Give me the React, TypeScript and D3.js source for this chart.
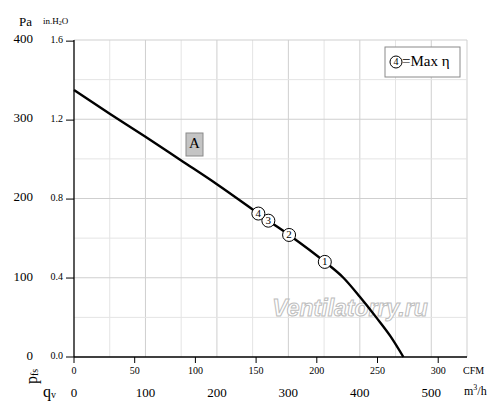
import React from "react";
import * as d3 from "d3";

// Curve data: flow in m3/h, static pressure in Pa
const flowM3h = [0, 50, 100, 150, 200, 258, 272, 301, 351, 377, 400, 423, 443, 461];
const pressurePa = [337, 307, 278, 248, 218, 181, 172, 154, 120, 100, 76, 50, 26, 0];

// Numbered operating points
const markerFlow = [351, 301, 272, 258];
const markerPa = [120, 154, 172, 181];
const markerLabels = ["1", "2", "3", "4"];

// Axes ticks
const paTicks = [0, 100, 200, 300, 400];
const inH2OTicks = [0.0, 0.4, 0.8, 1.2, 1.6];
const cfmTicks = [0, 50, 100, 150, 200, 250, 300];
const m3hTicks = [0, 100, 200, 300, 400, 500];
const gridFlow = [50, 100, 150, 200, 250, 300, 350, 400, 450, 500, 550];
const gridPa = [50, 100, 150, 200, 250, 300, 350, 400];

const PA_PER_INH2O = 249.0889;
const CFM_PER_M3H = 0.588578;

export default function App() {
  const W = 500, H = 420;
  const x = d3.scaleLinear().domain([0, 550]).range([74, 467]);
  const y = d3.scaleLinear().domain([0, 400]).range([357, 40]);
  const xCfm = d3.scaleLinear().domain([0, 550 * CFM_PER_M3H]).range([74, 467]);
  const yIn = d3.scaleLinear().domain([0, 400 / PA_PER_INH2O]).range([357, 40]);

  const pts: [number, number][] = flowM3h.map((f, i) => [f, pressurePa[i]]);
  const line = d3
    .line<[number, number]>()
    .x((d) => x(d[0]))
    .y((d) => y(d[1]))
    .curve(d3.curveMonotoneX);

  const serif = "Liberation Serif, DejaVu Serif, serif";

  return (
    <svg width={W} height={H} style={{ position: "absolute", left: 0, top: 0, background: "#fff" }}>
      {/* grid */}
      {gridFlow.map((g) => (
        <line key={"gx" + g} x1={x(g)} x2={x(g)} y1={y(0)} y2={y(400)}
          stroke={g % 100 === 0 || g === 550 ? "#cfcfcf" : "#e4e4e4"} strokeWidth={1} />
      ))}
      {gridPa.map((g) => (
        <line key={"gy" + g} x1={x(0)} x2={x(550)} y1={y(g)} y2={y(g)}
          stroke={g % 100 === 0 ? "#cfcfcf" : "#e4e4e4"} strokeWidth={1} />
      ))}

      {/* watermark */}
      <text x={350} y={316} textAnchor="middle" fontFamily="Liberation Sans, Arial, sans-serif"
        fontWeight="bold" fontStyle="italic" fontSize={23} fill="#ffffff" stroke="#bdbdbd" strokeWidth={1}>
        Ventilatorry.ru
      </text>

      {/* axes */}
      <line x1={x(0)} x2={x(0)} y1={y(0)} y2={y(400)} stroke="#000" strokeWidth={1.3} />
      <line x1={x(0)} x2={x(550)} y1={y(0)} y2={y(0)} stroke="#000" strokeWidth={1.3} />

      {/* left ticks: in.H2O */}
      {inH2OTicks.map((t) => (
        <g key={"in" + t}>
          <line x1={66} x2={x(0)} y1={yIn(t)} y2={yIn(t)} stroke="#000" strokeWidth={1} />
          <text x={63} y={yIn(t)} textAnchor="end" dominantBaseline="middle" fontFamily={serif} fontSize={10}>
            {t.toFixed(1)}
          </text>
        </g>
      ))}
      {paTicks.map((t) => (
        <text key={"pa" + t} x={33} y={y(t)} textAnchor="end" dominantBaseline="middle" fontFamily={serif} fontSize={13}>
          {t}
        </text>
      ))}
      <text x={19} y={23} dominantBaseline="middle" fontFamily={serif} fontSize={13}>Pa</text>
      <text x={43} y={22} dominantBaseline="middle" fontFamily={serif} fontSize={9}>
        in.H<tspan fontSize={6} dy={2}>2</tspan><tspan dy={-2}>O</tspan>
      </text>

      {/* bottom ticks: CFM */}
      {cfmTicks.map((t) => (
        <g key={"cfm" + t}>
          <line x1={xCfm(t)} x2={xCfm(t)} y1={y(0)} y2={y(0) + 6} stroke="#000" strokeWidth={1} />
          <text x={xCfm(t)} y={372} textAnchor="middle" dominantBaseline="middle" fontFamily={serif} fontSize={10}>
            {t}
          </text>
        </g>
      ))}
      <text x={463} y={372} dominantBaseline="middle" fontFamily={serif} fontSize={10}>CFM</text>
      {m3hTicks.map((t) => (
        <text key={"m3" + t} x={x(t)} y={394} textAnchor="middle" dominantBaseline="middle" fontFamily={serif} fontSize={13}>
          {t}
        </text>
      ))}
      <text x={464} y={392} dominantBaseline="middle" fontFamily={serif} fontSize={12}>
        m<tspan fontSize={8} dy={-4}>3</tspan><tspan dy={4}>/h</tspan>
      </text>
      <text x={43} y={393} dominantBaseline="middle" fontFamily={serif} fontSize={16}>
        q<tspan fontSize={10} dy={3}>v</tspan>
      </text>
      <text transform="translate(33,384) rotate(-90)" dominantBaseline="middle" fontFamily={serif} fontSize={16}>
        p<tspan fontSize={10} dy={3}>fs</tspan>
      </text>

      {/* curve */}
      <path d={line(pts) || ""} fill="none" stroke="#000" strokeWidth={2.4} />

      {/* curve label */}
      <rect x={186} y={133} width={17} height={23} fill="#c4c4c4" stroke="#8a8a8a" strokeWidth={1} />
      <text x={194.5} y={145} textAnchor="middle" dominantBaseline="middle" fontFamily={serif} fontSize={15}>A</text>

      {/* markers */}
      {markerFlow.map((f, i) => (
        <g key={"m" + i}>
          <circle cx={x(f)} cy={y(markerPa[i])} r={6.5} fill="#fff" stroke="#000" strokeWidth={1} />
          <text x={x(f)} y={y(markerPa[i]) + 0.5} textAnchor="middle" dominantBaseline="middle" fontFamily={serif} fontSize={11}>
            {markerLabels[i]}
          </text>
        </g>
      ))}

      {/* legend */}
      <rect x={385} y={47} width={75} height={30} fill="#fff" stroke="#8a8a8a" strokeWidth={1} />
      <circle cx={396} cy={62} r={6} fill="#fff" stroke="#000" strokeWidth={1} />
      <text x={396} y={62.5} textAnchor="middle" dominantBaseline="middle" fontFamily={serif} fontSize={10}>4</text>
      <text x={402} y={63} dominantBaseline="middle" fontFamily={serif} fontSize={15}>=Max η</text>
    </svg>
  );
}
